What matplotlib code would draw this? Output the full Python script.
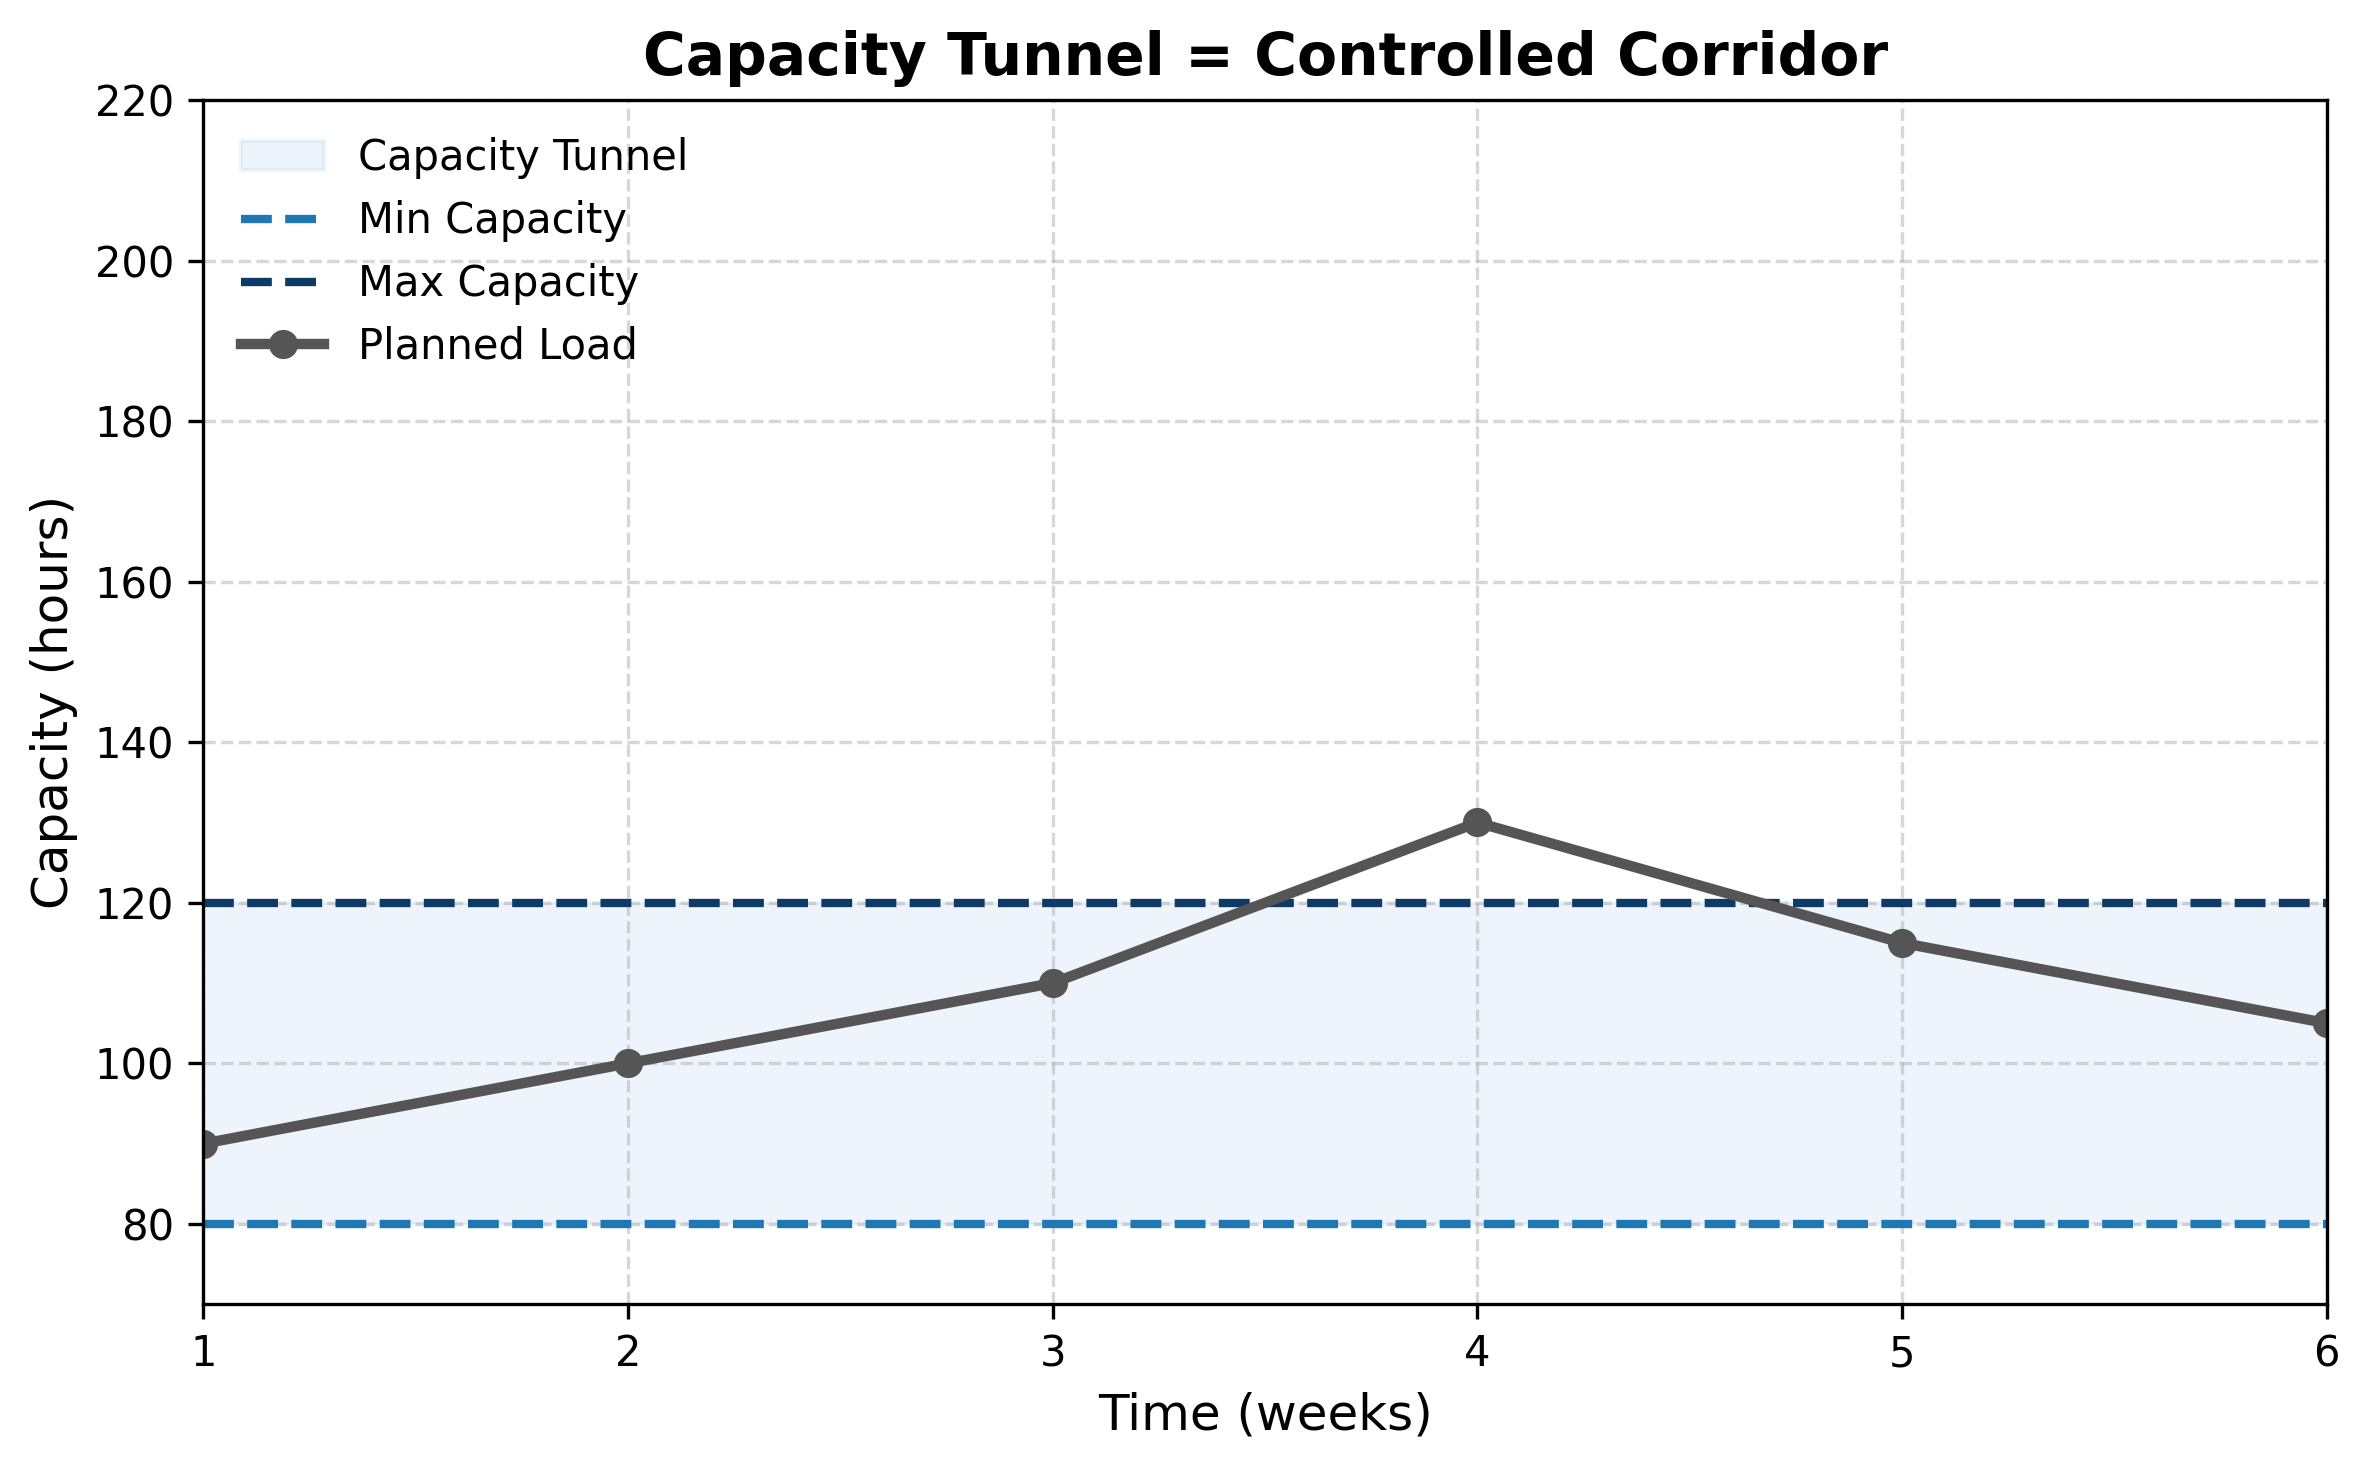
import numpy as np
import matplotlib.pyplot as plt

# data
weeks = [1, 2, 3, 4, 5, 6]
planned_load = [90, 100, 110, 130, 115, 105]
min_capacity = 80
max_capacity = 120

fig, ax = plt.subplots(figsize=(8, 5), dpi=300)

ax.fill_between(weeks, min_capacity, max_capacity, color='#4a90d9', alpha=0.09,
                label='Capacity Tunnel')
ax.axhline(min_capacity, color='#1f77b4', linestyle='--', linewidth=2, label='Min Capacity')
ax.axhline(max_capacity, color='#0d3b66', linestyle='--', linewidth=2, label='Max Capacity')
ax.plot(weeks, planned_load, color='#555555', linewidth=2.5, marker='o', markersize=6,
        label='Planned Load')

ax.set_xlim(1, 6)
ax.set_ylim(70, 220)
ax.set_yticks(np.arange(80, 221, 20))
ax.set_title('Capacity Tunnel = Controlled Corridor', fontsize=14, fontweight='bold')
ax.set_xlabel('Time (weeks)', fontsize=12)
ax.set_ylabel('Capacity (hours)', fontsize=12)
ax.grid(True, linestyle='--', alpha=0.5)
ax.legend(loc='upper left', frameon=False)

plt.tight_layout()
plt.savefig('out.png', dpi=300, bbox_inches='tight')
